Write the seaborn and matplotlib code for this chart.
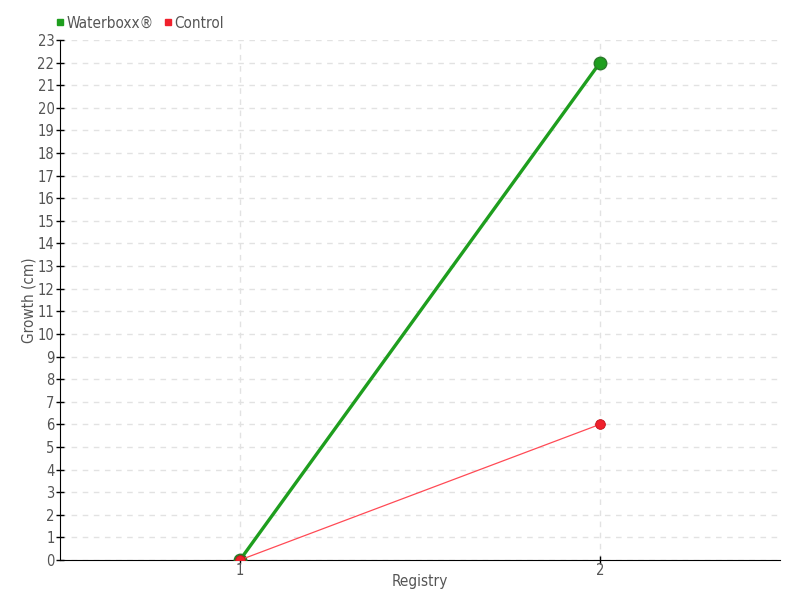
import matplotlib
matplotlib.use("Agg")
import matplotlib.pyplot as plt
import seaborn as sns
import pandas as pd
from matplotlib.lines import Line2D

registry = [1, 2]
waterboxx = [0, 22]
control = [0, 6]
series_names = ["Waterboxx®", "Control"]
colors = ["#1e9e1e", "#f0202c"]

sns.set_style("white")
plt.rcParams['font.family'] = ['DejaVu Sans']
plt.rcParams['font.stretch'] = 'condensed'

fig = plt.figure(figsize=(8, 6), dpi=100)
ax = fig.add_axes([0.075, 0.0667, 0.9, 0.8666])

df_w = pd.DataFrame({"Registry": registry, "Growth": waterboxx})
df_c = pd.DataFrame({"Registry": registry, "Growth": control})

sns.lineplot(data=df_w, x="Registry", y="Growth", ax=ax, color=colors[0], linewidth=2.4,
             marker="o", markersize=9, markeredgecolor="#2a7a2a", markeredgewidth=1, zorder=3)
sns.lineplot(data=df_c, x="Registry", y="Growth", ax=ax, color="#ff4a55", linewidth=0.9,
             marker="o", markersize=7, markerfacecolor=colors[1], markeredgecolor="#c01018",
             markeredgewidth=0.6, zorder=4)

ax.set_xlim(0.5, 2.5)
ax.set_ylim(0, 23)
ax.set_xticks(registry)
ax.set_yticks(range(0, 24))
ax.grid(True, color="#e2e2e2", linestyle=(0, (4, 4)), linewidth=1)
for s in ["top", "right"]:
    ax.spines[s].set_visible(False)
ax.spines["left"].set_color("black")
ax.spines["bottom"].set_color("black")
ax.tick_params(axis="both", direction="inout", length=6, width=1, color="black",
               labelsize=10.5, labelcolor="#555555", left=True, bottom=True)
ax.tick_params(axis="x", pad=-1)
ax.tick_params(axis="y", pad=1)
ax.set_xlabel("Registry", fontsize=11, color="#555555", labelpad=-3)
ax.set_ylabel("Growth (cm)", fontsize=11, color="#555555", labelpad=1)

handles = [Line2D([0], [0], marker="s", linestyle="", color=c, markersize=5) for c in colors]
fig.legend(handles, series_names, loc="upper left", bbox_to_anchor=(0.05, 0.997), ncol=2,
           frameon=False, fontsize=11, handletextpad=0.05, columnspacing=0.5,
           labelcolor="#555555", handlelength=0.8)

fig.savefig("out.png", dpi=100)
